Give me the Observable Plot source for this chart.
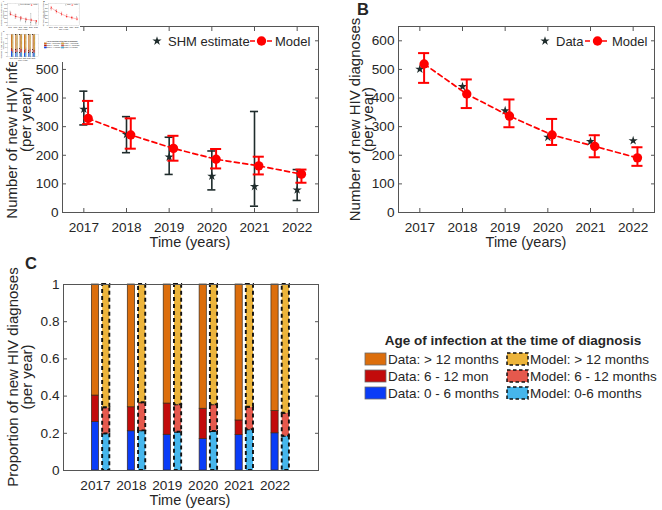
<!DOCTYPE html>
<html>
<head>
<meta charset="utf-8">
<script src="https://cdn.jsdelivr.net/npm/d3@7"></script>
<script src="https://cdn.jsdelivr.net/npm/@observablehq/plot@0.6"></script>
<style>
  body { margin: 0; background: #fff; }
  #fig { position: relative; width: 662px; height: 510px; overflow: hidden; background: #fff; }
  .panel { position: absolute; }
  .overlay { position: absolute; left: 0; top: 0; }
</style>
</head>
<body>
<div id="fig"></div>
<script>
// ---- data -------------------------------------------------------------
const years = [2017, 2018, 2019, 2020, 2021, 2022];

// A: new HIV infections per year
const shmEstimate = [361, 273, 194, 127, 91, 79];
const shmLower = [306, 209, 133, 79, 22, 42];
const shmUpper = [424, 335, 263, 215, 353, 150];
const modelInfections = [329, 271, 224, 186, 163, 134];
const modelInfLower = [309, 223, 181, 154, 133, 104];
const modelInfUpper = [390, 329, 268, 222, 195, 150];

// B: new HIV diagnoses per year
const diagnosesData = [501, 440, 356, 263, 248, 251];
const modelDiagnoses = [519, 414, 337, 271, 231, 191];
const modelDiagLower = [453, 365, 298, 236, 193, 163];
const modelDiagUpper = [557, 465, 395, 327, 270, 228];

// C: share of diagnoses by age of infection (0-6 months, 6-12 months; remainder > 12 months)
const dataLt6 = [0.26, 0.211, 0.192, 0.17, 0.19, 0.20];
const data6to12 = [0.143, 0.129, 0.168, 0.162, 0.079, 0.12];
const modelLt6 = [0.197, 0.213, 0.206, 0.21, 0.219, 0.184];
const model6to12 = [0.14, 0.151, 0.147, 0.143, 0.121, 0.124];

const countTicks = [0, 100, 200, 300, 400, 500, 600];
const shareTicks = [0, 0.2, 0.4, 0.6, 0.8, 1];
const shareTickLabels = ["0", "0.2", "0.4", "0.6", "0.8", "1"];

const legendRows = [
  {data: "Data: > 12 months", model: "Model: > 12 months"},
  {data: "Data: 6 - 12 mon", model: "Model: 6 - 12 months"},
  {data: "Data: 0 - 6 months", model: "Model: 0-6 months"}
];

// ---- styling ------------------------------------------------------------
const font = '"Liberation Sans", Arial, Helvetica, sans-serif';
const ink = "#262626";
const axisColor = "#555555";
const dark = "#1f2c2c";
const red = "#ff0000";
const dataColors = ["#0a3cf7", "#c20b0b", "#dc6e0c"];   // 0-6, 6-12, >12
const modelColors = ["#46b6ec", "#e5594d", "#ecb43b"];
const modelShift = 0.1;   // model series sits just right of each year
const baseStyle = {fontFamily: font, fontSize: "13.6px", color: ink, background: "transparent", overflow: "visible"};

const fig = document.getElementById("fig");

function place(node, left, top) {
  const wrap = document.createElement("div");
  wrap.className = "panel";
  wrap.style.left = left + "px";
  wrap.style.top = top + "px";
  wrap.appendChild(node);
  fig.appendChild(wrap);
}

// boxed axes: inward ticks on all four sides, labels on the left and bottom
function boxAxes(xTicks, yTicks, yFormat) {
  const blank = () => "";
  return [
    Plot.axisX({anchor: "bottom", ticks: xTicks, tickSize: -4, tickFormat: blank, label: null, stroke: axisColor}),
    Plot.axisX({anchor: "top", ticks: xTicks, tickSize: -4, tickFormat: blank, label: null, stroke: axisColor}),
    Plot.axisY({anchor: "left", ticks: yTicks, tickSize: -4, tickFormat: blank, label: null, stroke: axisColor}),
    Plot.axisY({anchor: "right", ticks: yTicks, tickSize: -4, tickFormat: blank, label: null, stroke: axisColor}),
    Plot.axisX({anchor: "bottom", ticks: xTicks, tickFormat: d => String(d), tickSize: 0, tickPadding: 10, label: null, fill: ink}),
    Plot.axisY({anchor: "left", ticks: yTicks, tickFormat: yFormat, tickSize: 0, tickPadding: 4, label: null, fill: ink})
  ];
}

function errorBars(rows, {stroke, strokeWidth, cap}) {
  return [
    Plot.ruleX(rows, {x: "x", y1: "lo", y2: "hi", stroke, strokeWidth}),
    Plot.ruleY(rows, {x1: d => d.x - cap, x2: d => d.x + cap, y: "lo", stroke, strokeWidth}),
    Plot.ruleY(rows, {x1: d => d.x - cap, x2: d => d.x + cap, y: "hi", stroke, strokeWidth})
  ];
}

function countPanel({width, marginLeft, marginRight, obs, obsLo, obsHi, model, modLo, modHi}) {
  const obsRows = years.map((year, i) => ({x: year, v: obs[i], lo: obsLo ? obsLo[i] : null, hi: obsHi ? obsHi[i] : null}));
  const modRows = years.map((year, i) => ({x: year + modelShift, v: model[i], lo: modLo[i], hi: modHi[i]}));
  return Plot.plot({
    width, height: 250,
    marginLeft, marginRight, marginTop: 26, marginBottom: 38,
    style: baseStyle,
    x: {domain: [2016.5, 2022.5]},
    y: {domain: [0, 650]},
    marks: [
      ...boxAxes(years, countTicks, d => String(d)),
      ...(obsLo ? errorBars(obsRows, {stroke: dark, strokeWidth: 1.6, cap: 0.095}) : []),
      Plot.dot(obsRows, {x: "x", y: "v", symbol: "star", r: 2.9, fill: dark, stroke: "none"}),
      Plot.line(modRows, {x: "x", y: "v", stroke: red, strokeWidth: 1.7, strokeDasharray: "5,3.5"}),
      ...errorBars(modRows, {stroke: red, strokeWidth: 2, cap: 0.13}),
      Plot.dot(modRows, {x: "x", y: "v", r: 4.7, fill: red, stroke: "none"}),
      Plot.frame({stroke: axisColor, strokeWidth: 1})
    ]
  });
}

// A
place(countPanel({
  width: 330, marginLeft: 62, marginRight: 12,
  obs: shmEstimate, obsLo: shmLower, obsHi: shmUpper,
  model: modelInfections, modLo: modelInfLower, modHi: modelInfUpper
}), 0, 0);

// B
place(countPanel({
  width: 332, marginLeft: 68, marginRight: 8,
  obs: diagnosesData,
  model: modelDiagnoses, modLo: modelDiagLower, modHi: modelDiagUpper
}), 330, 0);

// C
const stackRows = (lt6, mid) => years.flatMap((year, i) => {
  const parts = [lt6[i], mid[i], 1 - lt6[i] - mid[i]];
  const tops = Array.from(d3.cumsum(parts));
  return parts.map((p, k) => ({year, k, y1: tops[k] - p, y2: tops[k]}));
});
const dataStack = stackRows(dataLt6, data6to12);
const modelStack = stackRows(modelLt6, model6to12);
const barHalf = 0.1;
const modelBarShift = 0.3;

place(Plot.plot({
  width: 330, height: 260,
  marginLeft: 63, marginRight: 12, marginTop: 34, marginBottom: 40,
  style: baseStyle,
  x: {domain: [2016.11, 2023.21]},
  y: {domain: [0, 1]},
  color: {type: "identity"},
  marks: [
    ...boxAxes(years, shareTicks, d => shareTickLabels[shareTicks.indexOf(d)]),
    Plot.rect(dataStack, {
      x1: d => d.year - barHalf, x2: d => d.year + barHalf, y1: "y1", y2: "y2",
      fill: d => dataColors[d.k], stroke: "#3a2a1a", strokeWidth: 0.7
    }),
    Plot.rect(modelStack, {
      x1: d => d.year + modelBarShift - barHalf, x2: d => d.year + modelBarShift + barHalf, y1: "y1", y2: "y2",
      fill: d => modelColors[d.k], stroke: "#111", strokeWidth: 1.9, strokeDasharray: "4,3"
    }),
    Plot.frame({stroke: axisColor, strokeWidth: 1})
  ]
}), 0, 250);

// ---- labels and legends ---------------------------------------------------
const svg = d3.select(fig).append("svg")
  .attr("class", "overlay")
  .attr("width", 662).attr("height", 510)
  .style("font-family", font)
  .style("fill", ink);

function yLabel(x1, x2, cy, line1, line2) {
  svg.append("text").attr("transform", `translate(${x1},${cy}) rotate(-90)`)
    .attr("text-anchor", "middle").style("font-size", "15px").text(line1);
  svg.append("text").attr("transform", `translate(${x2},${cy}) rotate(-90)`)
    .attr("text-anchor", "middle").style("font-size", "15px").text(line2);
}
yLabel(17, 31, 119.5, "Number of new HIV infections", "(per year)");
yLabel(360, 373, 119.5, "Number of new HIV diagnoses", "(per year)");
yLabel(18, 32, 377, "Proportion of new HIV diagnoses", "(per year)");

for (const [x, y] of [[190, 246.5], [526, 246.5], [190, 504.5]]) {
  svg.append("text").attr("x", x).attr("y", y).attr("text-anchor", "middle")
    .style("font-size", "14.5px").text("Time (years)");
}

for (const [t, x, y] of [["A", 22, 15], ["B", 357, 15], ["C", 25, 269]]) {
  svg.append("text").attr("x", x).attr("y", y).style("font-size", "16.5px").style("font-weight", "bold").text(t);
}

const star = d3.symbol(d3.symbolStar, 2.9 * 2.9 * Math.PI)();
function countLegend(starX, obsName, lineX1, lineX2, modelName, modelX, y) {
  svg.append("path").attr("d", star).attr("transform", `translate(${starX},${y})`).attr("fill", dark);
  svg.append("text").attr("x", starX + 11).attr("y", y + 4.5).style("font-size", "13px").text(obsName);
  svg.append("line").attr("x1", lineX1).attr("x2", lineX2).attr("y1", y).attr("y2", y)
    .attr("stroke", red).attr("stroke-width", 1.7).attr("stroke-dasharray", "5,3.5");
  svg.append("circle").attr("cx", (lineX1 + lineX2) / 2).attr("cy", y).attr("r", 4.7).attr("fill", red);
  svg.append("text").attr("x", modelX).attr("y", y + 4.5).style("font-size", "13px").text(modelName);
}
countLegend(157, "SHM estimate", 250, 273, "Model", 275, 41);
countLegend(545, "Data", 585, 610, "Model", 612, 41);

svg.append("text").attr("x", 513).attr("y", 345).attr("text-anchor", "middle")
  .style("font-size", "13.5px").style("font-weight", "bold")
  .text("Age of infection at the time of diagnosis");
legendRows.forEach((row, i) => {
  const base = 364 + i * 17;
  const k = 2 - i;
  svg.append("rect").attr("x", 365).attr("y", base - 11).attr("width", 21).attr("height", 12)
    .attr("fill", dataColors[k]).attr("stroke", "#6a6a6a").attr("stroke-width", 0.8);
  svg.append("text").attr("x", 388).attr("y", base).style("font-size", "13.5px").text(row.data);
  svg.append("rect").attr("x", 507).attr("y", base - 11).attr("width", 21).attr("height", 12)
    .attr("fill", modelColors[k]).attr("stroke", "#111").attr("stroke-width", 1.5).attr("stroke-dasharray", "3.5,2.5");
  svg.append("text").attr("x", 530).attr("y", base).style("font-size", "13.5px").text(row.model);
});

// ---- miniature of the whole figure in the top-left corner ------------------
const scale = 80 / 662;
const mini = fig.cloneNode(true);
mini.removeAttribute("id");
mini.style.position = "absolute";
mini.style.left = "0px";
mini.style.top = "0px";
mini.style.width = "662px";
mini.style.height = "510px";
mini.style.transformOrigin = "0 0";
mini.style.transform = `scale(${scale})`;
const thumb = document.createElement("div");
thumb.style.cssText = `position:absolute;left:0;top:0;width:${Math.round(662 * scale)}px;height:${Math.round(510 * scale)}px;overflow:hidden;background:#fff;`;
thumb.appendChild(mini);
fig.appendChild(thumb);
</script>
</body>
</html>
